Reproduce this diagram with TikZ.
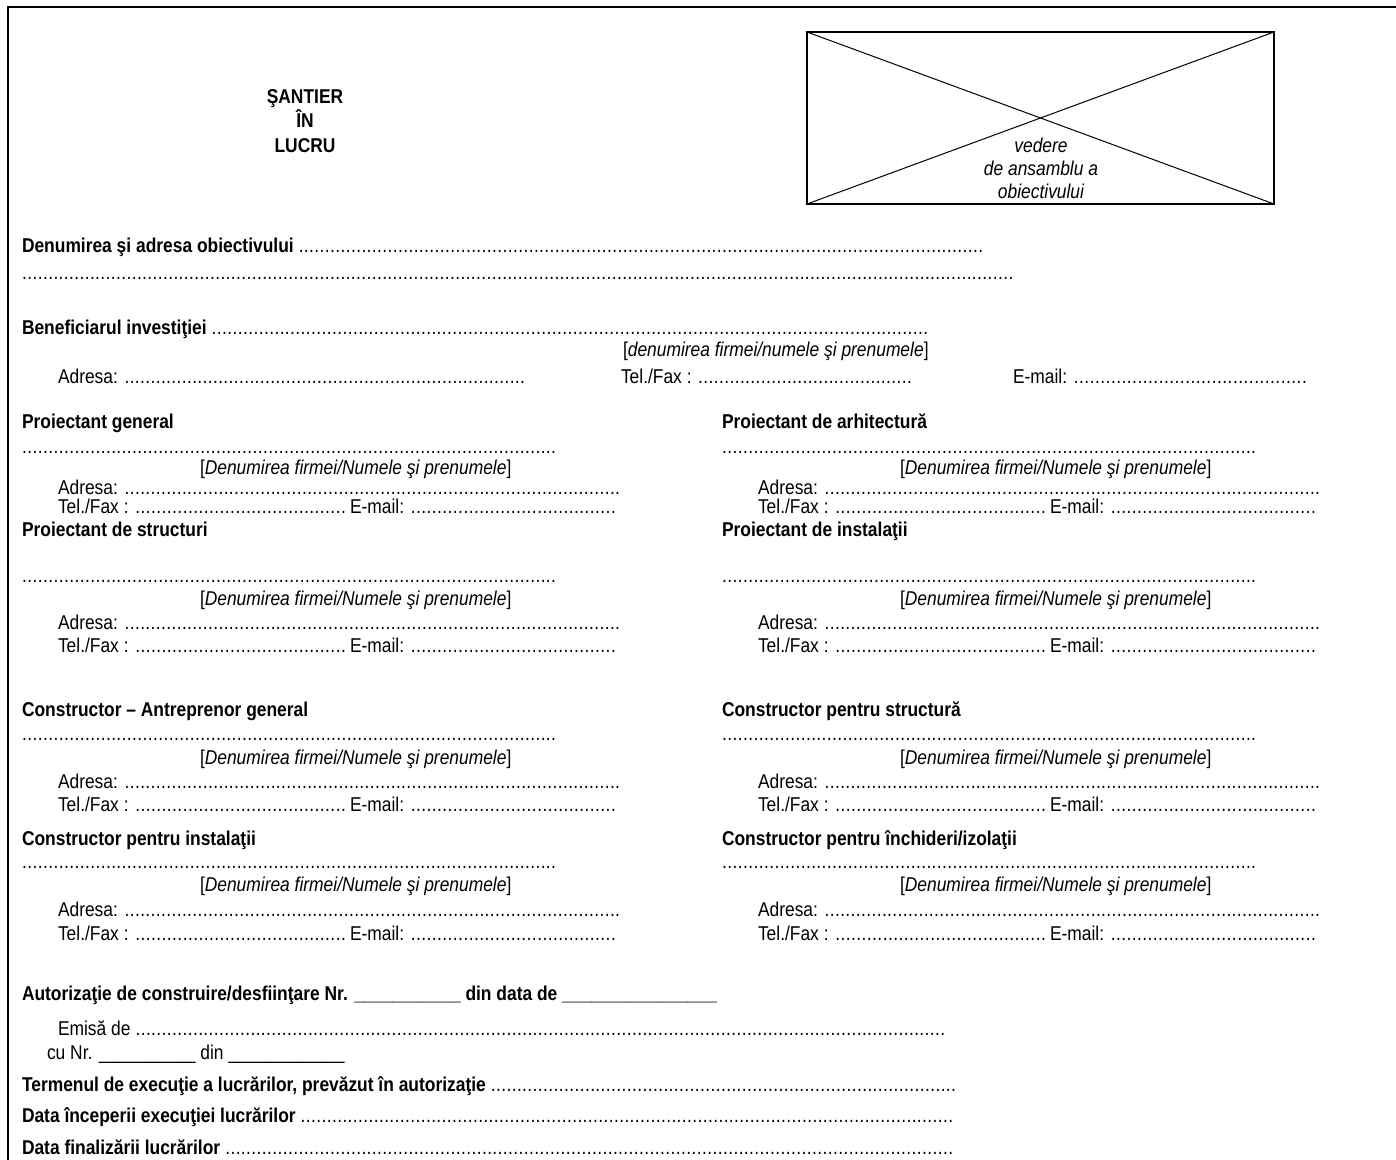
\documentclass[tikz,border=0pt]{standalone}
\usepackage{fontspec}
\setmainfont[FakeStretch=0.87]{Liberation Sans}
\newdimen\pxu \pxu=0.75pt
\newcommand\fl[2]{\hbox to #1\pxu{#2\xleaders\hbox to .26em{\hss.\hss}\hfill}}
\newcommand\blk[8]{%
  \node[btxt] (#1h) at (#2,#3) {#8};
  \node[txt] (#1d) at (#2,#4) {\fl{534}{}};
  \node[txt] (#1b) at ({#2+178},#5) {[\textit{Denumirea firmei/Numele şi prenumele}]};
  \node[txt] (#1a) at ({#2+36},#6) {\fl{562}{Adresa: }};
  \node[txt] (#1t) at ({#2+36},#7) {\fl{288}{Tel./Fax : }};
  \node[txt] (#1e) at ({#2+328},#7) {\fl{266}{E-mail: }};
}
\tikzset{
  txt/.style={anchor=base west, inner sep=0pt, outer sep=0pt, font=\fontsize{15}{18}\selectfont},
  btxt/.style={txt, font=\fontsize{15}{18}\selectfont\bfseries},
  ctr/.style={txt, anchor=base},
  itc/.style={ctr, font=\fontsize{15}{18}\selectfont\itshape},
  bctr/.style={ctr, font=\fontsize{15}{18}\selectfont\bfseries},
  frame/.style={line width=1.9pt},
  boxline/.style={line width=1.5pt},
  diag/.style={line width=0.75pt}
}
\begin{document}
\begin{tikzpicture}[x=0.75pt,y=-0.75pt]
\useasboundingbox (0,0) rectangle (1396,1160);
% frame
\coordinate (fr1) at (1396,7);
\coordinate (fr0) at (8,7);
\coordinate (fr2) at (8,1160);
\draw[frame] (fr1) -- (fr0) -- (fr2);
% title
\node[bctr] (t1) at (305,103) {ŞANTIER};
\node[bctr] (t2) at (305,127) {ÎN};
\node[bctr] (t3) at (305,152) {LUCRU};
% picture box
\coordinate (bTL) at (807,32);
\coordinate (bBR) at (1274,204);
\coordinate (bTR) at (1274,32);
\coordinate (bBL) at (807,204);
\draw[diag] (bTL) -- (bBR);
\draw[diag] (bBL) -- (bTR);
\draw[boxline] (bTL) rectangle (bBR);
\node[itc] (v1) at (1041,152) {vedere};
\node[itc] (v2) at (1041,175) {de ansamblu a};
\node[itc] (v3) at (1041,198) {obiectivului};
% object
\node[txt] (obj) at (22,252) {\fl{961}{\textbf{Denumirea şi adresa obiectivului} }};
\node[txt] (obj2) at (22,279) {\fl{991}{}};
\node[txt] (ben) at (22,334) {\fl{906}{\textbf{Beneficiarul investiţiei} }};
\node[txt] (benb) at (623,356) {[\textit{denumirea firmei/numele şi prenumele}]};
\node[txt] (bena) at (58,383) {\fl{467}{Adresa: }};
\node[txt] (bent) at (621,383) {\fl{291}{Tel./Fax : }};
\node[txt] (bene) at (1013,383) {\fl{294}{E-mail: }};
% blocks
\blk{pg}{22}{428}{453}{474}{494}{513}{Proiectant general}
\blk{pa}{722}{428}{453}{474}{494}{513}{Proiectant de arhitectură}
\blk{ps}{22}{536}{582}{605}{629}{652}{Proiectant de structuri}
\blk{pi}{722}{536}{582}{605}{629}{652}{Proiectant de instalaţii}
\blk{cg}{22}{716}{740}{764}{788}{811}{Constructor – Antreprenor general}
\blk{cs}{722}{716}{740}{764}{788}{811}{Constructor pentru structură}
\blk{ci}{22}{845}{868}{891}{916}{940}{Constructor pentru instalaţii}
\blk{cz}{722}{845}{868}{891}{916}{940}{Constructor pentru închideri/izolaţii}
% authorisation
\node[btxt] (aut) at (22,1000) {Autorizaţie de construire/desfiinţare Nr. \_\_\_\_\_\_\_\_\_\_\_ din data de \_\_\_\_\_\_\_\_\_\_\_\_\_\_\_\_};
\node[txt] (emi) at (58,1035) {\fl{887}{Emisă de }};
\node[txt] (cun) at (47,1059) {cu Nr. \_\_\_\_\_\_\_\_\_\_ din \_\_\_\_\_\_\_\_\_\_\_\_};
\node[txt] (ter) at (22,1091) {\fl{934}{\textbf{Termenul de execuţie a lucrărilor, prevăzut în autorizaţie} }};
\node[txt] (din) at (22,1122) {\fl{931}{\textbf{Data începerii execuţiei lucrărilor} }};
\node[txt] (dfi) at (22,1154) {\fl{931}{\textbf{Data finalizării lucrărilor} }};
\end{tikzpicture}
\end{document}
